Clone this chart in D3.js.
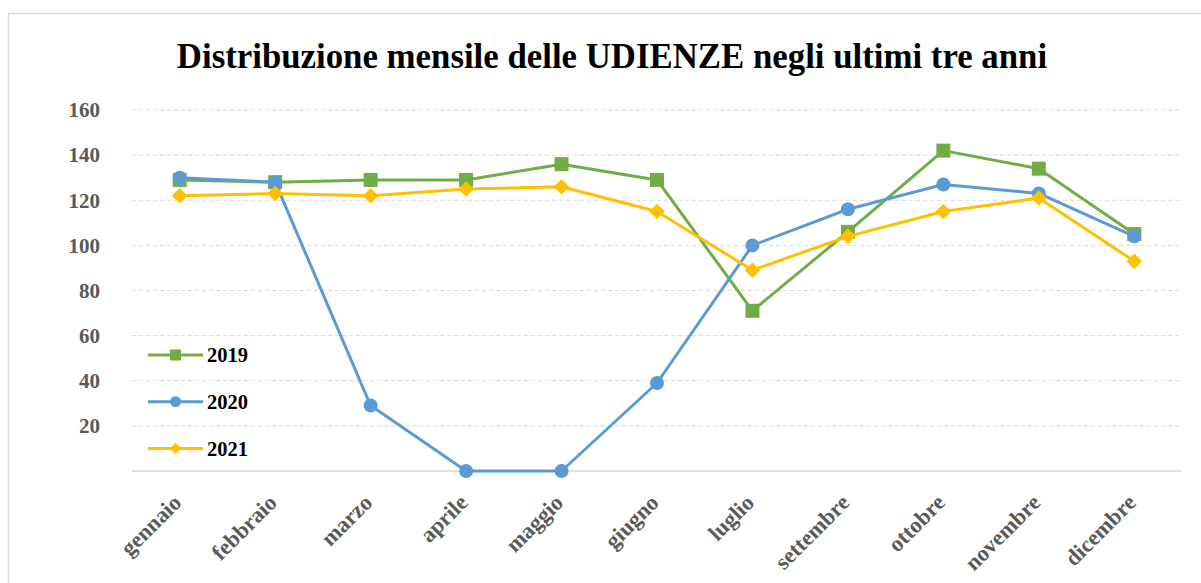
<!DOCTYPE html>
<html>
<head>
<meta charset="utf-8">
<script src="https://cdn.jsdelivr.net/npm/d3@7"></script>
<style>
  body { margin: 0; background: #fff; }
  svg { display: block; }
</style>
</head>
<body>
<div id="chart"></div>
<script>
var months = ["gennaio", "febbraio", "marzo", "aprile", "maggio", "giugno",
              "luglio", "settembre", "ottobre", "novembre", "dicembre"];
var v2019 = [129, 128, 129, 129, 136, 129, 71, 106, 142, 134, 105];
var v2020 = [130, 128, 29, 0, 0, 39, 100, 116, 127, 123, 104];
var v2021 = [122, 123, 122, 125, 126, 115, 89, 104, 115, 121, 93];
var yTicks = [20, 40, 60, 80, 100, 120, 140, 160];

var series = [
  {name: "2019", values: v2019, color: "#70ad47", shape: "square"},
  {name: "2020", values: v2020, color: "#5b9bd5", shape: "circle"},
  {name: "2021", values: v2021, color: "#ffc000", shape: "diamond"}
];

var W = 1201, H = 583;
var margin = {top: 110, right: 19, bottom: 112, left: 132};

var svg = d3.select("#chart").append("svg")
  .attr("width", W)
  .attr("height", H);

// chart border
svg.append("rect")
  .attr("x", 8.5).attr("y", 13.5)
  .attr("width", W).attr("height", H)
  .attr("fill", "none")
  .attr("stroke", "#d9d9d9")
  .attr("stroke-width", 1.5);

var font = "'Liberation Serif', serif";

// title
svg.append("text")
  .attr("x", 612)
  .attr("y", 68)
  .attr("text-anchor", "middle")
  .style("font-family", font)
  .style("font-weight", "bold")
  .style("font-size", "34.8px")
  .text("Distribuzione mensile delle UDIENZE negli ultimi tre anni");

var x = d3.scaleBand()
  .domain(months)
  .range([margin.left, W - margin.right]);

var y = d3.scaleLinear()
  .domain([0, 160])
  .range([H - margin.bottom, margin.top]);

// marker path by shape, s = side length
function marker(shape, s) {
  if (shape === "circle") return d3.symbol().type(d3.symbolCircle).size(Math.PI * s * s / 4)();
  return d3.symbol().type(d3.symbolSquare).size(s * s)();
}

// grid lines
svg.append("g")
  .selectAll("line")
  .data(yTicks)
  .enter().append("line")
  .attr("x1", margin.left)
  .attr("x2", W - margin.right)
  .attr("y1", function(d) { return y(d); })
  .attr("y2", function(d) { return y(d); })
  .attr("stroke", "#d9d9d9")
  .attr("stroke-width", 1)
  .attr("stroke-dasharray", "4,3");

// y labels
svg.append("g")
  .selectAll("text")
  .data(yTicks)
  .enter().append("text")
  .attr("x", 100)
  .attr("y", function(d) { return y(d); })
  .attr("dy", "0.35em")
  .attr("text-anchor", "end")
  .style("font-family", font)
  .style("font-weight", "bold")
  .style("font-size", "21px")
  .style("fill", "#595959")
  .text(function(d) { return d; });

// x axis line
svg.append("line")
  .attr("x1", margin.left)
  .attr("x2", W - margin.right)
  .attr("y1", y(0))
  .attr("y2", y(0))
  .attr("stroke", "#d9d9d9")
  .attr("stroke-width", 1.5);

// x labels
svg.append("g")
  .selectAll("text")
  .data(months)
  .enter().append("text")
  .attr("transform", function(d) {
    return "translate(" + (x(d) + x.bandwidth() / 2 + 3) + "," + (y(0) + 33) + ") rotate(-45)";
  })
  .attr("text-anchor", "end")
  .style("font-family", font)
  .style("font-weight", "bold")
  .style("font-size", "22.5px")
  .style("fill", "#595959")
  .text(function(d) { return d; });

var line = d3.line()
  .x(function(d, i) { return x(months[i]) + x.bandwidth() / 2; })
  .y(function(d) { return y(d); });

series.forEach(function(s) {
  var g = svg.append("g");
  g.append("path")
    .datum(s.values)
    .attr("d", line)
    .attr("fill", "none")
    .attr("stroke", s.color)
    .attr("stroke-width", 3)
    .attr("stroke-linejoin", "round");
  g.selectAll("path.mark")
    .data(s.values)
    .enter().append("path")
    .attr("class", "mark")
    .attr("transform", function(d, i) {
      var t = "translate(" + (x(months[i]) + x.bandwidth() / 2) + "," + y(d) + ")";
      return s.shape === "diamond" ? t + " rotate(45)" : t;
    })
    .attr("d", marker(s.shape, s.shape === "diamond" ? 11 : 14))
    .attr("fill", s.color);
});

// legend
var legend = svg.append("g")
  .selectAll("g")
  .data(series)
  .enter().append("g")
  .attr("transform", function(d, i) { return "translate(148," + (355 + i * 46.7) + ")"; });

legend.append("line")
  .attr("x1", 0).attr("x2", 55)
  .attr("stroke", function(d) { return d.color; })
  .attr("stroke-width", 3);

legend.append("path")
  .attr("transform", function(d) { return d.shape === "diamond" ? "translate(27.5,0) rotate(45)" : "translate(27.5,0)"; })
  .attr("d", function(d) { return marker(d.shape, d.shape === "diamond" ? 8 : 11); })
  .attr("fill", function(d) { return d.color; });

legend.append("text")
  .attr("x", 59)
  .attr("dy", "0.35em")
  .style("font-family", font)
  .style("font-weight", "bold")
  .style("font-size", "20.5px")
  .text(function(d) { return d.name; });
</script>
</body>
</html>
